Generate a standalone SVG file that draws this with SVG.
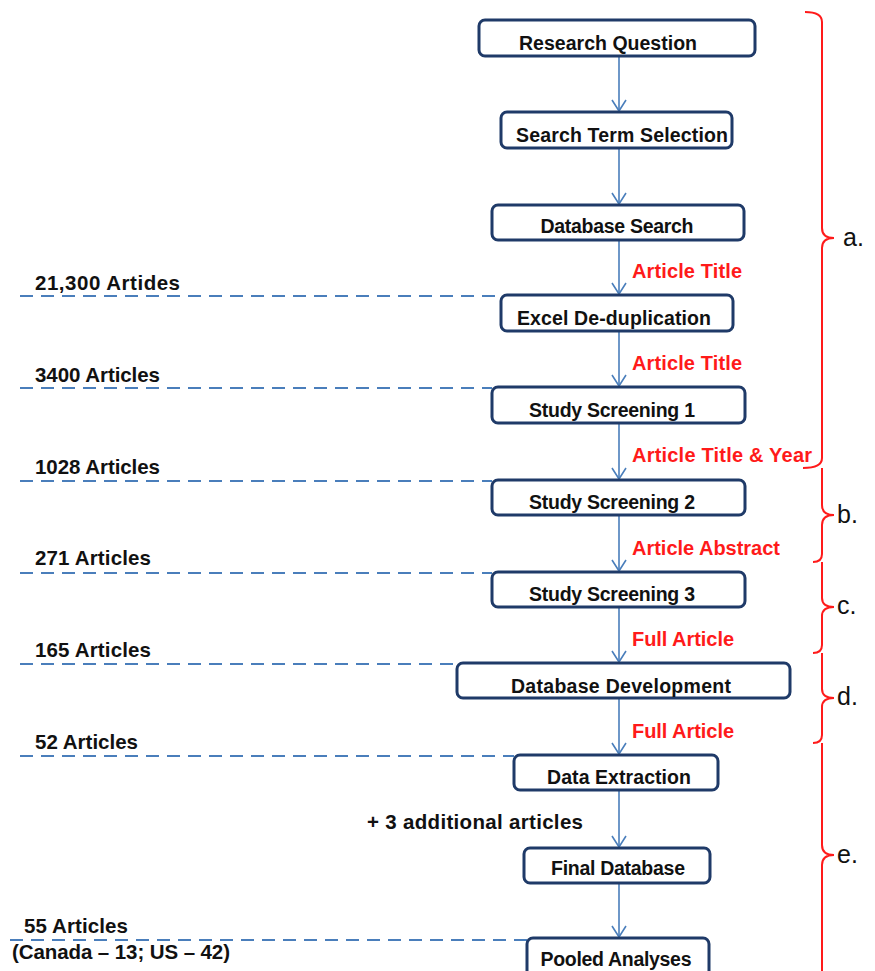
<svg xmlns="http://www.w3.org/2000/svg" width="875" height="971" viewBox="0 0 875 971">
<defs>
<style>
.box{fill:#fff;stroke:#1f3a68;stroke-width:3}
.bt{font-family:"Liberation Sans",Arial,sans-serif;font-weight:bold;font-size:19.5px;fill:#111;text-anchor:middle}
.lt{font-family:"Liberation Sans",Arial,sans-serif;font-weight:bold;font-size:20.5px;fill:#111}
.rt{font-family:"Liberation Sans",Arial,sans-serif;font-weight:bold;font-size:20px;fill:#ff1a1a}
.conn{stroke:#4a7ebb;stroke-width:1.6;fill:none}
.dash{stroke:#4a7ebb;stroke-width:2;fill:none;stroke-dasharray:13 8}
.brace{stroke:#ff1a1a;stroke-width:2;fill:none}
.let{font-family:"Liberation Sans",Arial,sans-serif;font-size:25px;fill:#111}
</style>
<marker id="arr" markerWidth="16" markerHeight="16" refX="13" refY="8" orient="auto" markerUnits="userSpaceOnUse" viewBox="0 0 16 16">
<path d="M2,1 L13,8 L2,15" fill="none" stroke="#4a7ebb" stroke-width="1.6"/>
</marker>
</defs>
<rect width="875" height="971" fill="#fff"/>
<g id="connectors">
<line class="conn" x1="619" y1="56" x2="619" y2="111" marker-end="url(#arr)"/>
<line class="conn" x1="619" y1="148" x2="619" y2="204" marker-end="url(#arr)"/>
<line class="conn" x1="619" y1="240" x2="619" y2="294" marker-end="url(#arr)"/>
<line class="conn" x1="619" y1="331" x2="619" y2="386" marker-end="url(#arr)"/>
<line class="conn" x1="619" y1="423" x2="619" y2="479" marker-end="url(#arr)"/>
<line class="conn" x1="619" y1="515" x2="619" y2="571" marker-end="url(#arr)"/>
<line class="conn" x1="619" y1="607" x2="619" y2="662" marker-end="url(#arr)"/>
<line class="conn" x1="619" y1="698" x2="619" y2="754" marker-end="url(#arr)"/>
<line class="conn" x1="619" y1="790" x2="619" y2="847" marker-end="url(#arr)"/>
<line class="conn" x1="619" y1="883" x2="619" y2="937" marker-end="url(#arr)"/>
<line class="dash" x1="20" y1="296" x2="501" y2="296"/>
<line class="dash" x1="20" y1="388" x2="492" y2="388"/>
<line class="dash" x1="20" y1="481" x2="492" y2="481"/>
<line class="dash" x1="20" y1="573" x2="492" y2="573"/>
<line class="dash" x1="20" y1="664" x2="457" y2="664"/>
<line class="dash" x1="20" y1="756" x2="514" y2="756"/>
<line class="dash" x1="10" y1="940" x2="527" y2="940"/>
</g>
<g id="n1"><rect class="box" x="479" y="20" width="276" height="36" rx="6"/><text class="bt" x="608" y="50" textLength="178">Research Question</text></g>
<g id="n2"><rect class="box" x="501" y="112" width="231" height="36" rx="6"/><text class="bt" x="622" y="142" textLength="212">Search Term Selection</text></g>
<g id="n3"><rect class="box" x="492" y="205" width="252" height="35" rx="6"/><text class="bt" x="617" y="233" textLength="153">Database Search</text></g>
<g id="n4"><rect class="box" x="501" y="295" width="232" height="36" rx="6"/><text class="bt" x="614" y="325" textLength="194">Excel De-duplication</text></g>
<g id="n5"><rect class="box" x="492" y="387" width="253" height="36" rx="6"/><text class="bt" x="612" y="417" textLength="166">Study Screening 1</text></g>
<g id="n6"><rect class="box" x="492" y="480" width="253" height="35" rx="6"/><text class="bt" x="612" y="509" textLength="166">Study Screening 2</text></g>
<g id="n7"><rect class="box" x="492" y="572" width="253" height="35" rx="6"/><text class="bt" x="612" y="601" textLength="166">Study Screening 3</text></g>
<g id="n8"><rect class="box" x="457" y="663" width="333" height="35" rx="6"/><text class="bt" x="621" y="693" textLength="220">Database Development</text></g>
<g id="n9"><rect class="box" x="514" y="755" width="204" height="35" rx="6"/><text class="bt" x="619" y="784" textLength="144">Data Extraction</text></g>
<g id="n10"><rect class="box" x="524" y="848" width="186" height="35" rx="6"/><text class="bt" x="618" y="875" textLength="134">Final Database</text></g>
<g id="n11"><rect class="box" x="527" y="938" width="182" height="40" rx="6"/><text class="bt" x="616" y="966" textLength="151">Pooled Analyses</text></g>
<g id="labels">
<text class="lt" x="35" y="290" textLength="145">21,300 Artides</text>
<text class="lt" x="35" y="382" textLength="125">3400 Articles</text>
<text class="lt" x="35" y="474" textLength="125">1028 Articles</text>
<text class="lt" x="35" y="565" textLength="116">271 Articles</text>
<text class="lt" x="35" y="657" textLength="116">165 Articles</text>
<text class="lt" x="35" y="749" textLength="103">52 Articles</text>
<text class="lt" x="367" y="829" textLength="216">+ 3 additional articles</text>
<text class="lt" x="24" y="933" textLength="104">55 Articles</text>
<text class="lt" x="12" y="959" textLength="218">(Canada – 13; US – 42)</text>
<text class="rt" x="632" y="278" textLength="110">Article Title</text>
<text class="rt" x="632" y="370" textLength="110">Article Title</text>
<text class="rt" x="632" y="462" textLength="180">Article Title &amp; Year</text>
<text class="rt" x="632" y="555" textLength="148">Article Abstract</text>
<text class="rt" x="632" y="646" textLength="102">Full Article</text>
<text class="rt" x="632" y="738" textLength="102">Full Article</text>
</g>
<g id="braces">
<path class="brace" d="M805,12 Q822,12 822,22 V228 Q822,238 834,238 Q822,238 822,248 V458 Q822,468 803,468"/>
<path class="brace" d="M822,468 V505 Q822,515 834,515 Q822,515 822,525 V554 Q822,562 813,562"/>
<path class="brace" d="M822,562 V598 Q822,607 834,607 Q822,607 822,616 V645 Q822,653 813,653"/>
<path class="brace" d="M822,653 V689 Q822,698 834,698 Q822,698 822,707 V735 Q822,743 813,743"/>
<path class="brace" d="M822,743 V845 Q822,855 834,855 Q822,855 822,865 V971"/>
<text class="let" x="843" y="246">a.</text>
<text class="let" x="837" y="523">b.</text>
<text class="let" x="837" y="614">c.</text>
<text class="let" x="837" y="705">d.</text>
<text class="let" x="837" y="863">e.</text>
</g>
</svg>
